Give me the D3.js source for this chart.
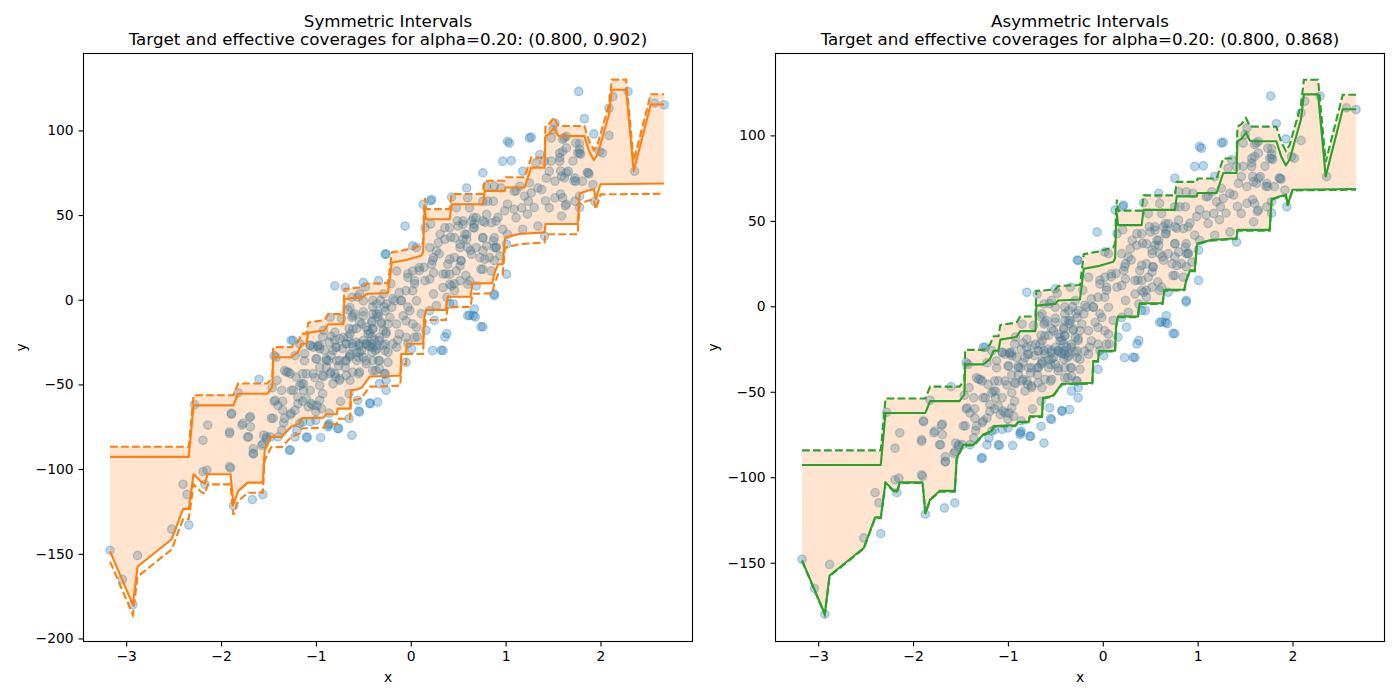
<!DOCTYPE html>
<html>
<head>
<meta charset="utf-8">
<script src="https://cdn.jsdelivr.net/npm/d3@7"></script>
<style>
  body { margin: 0; background: #fff; }
  text { font-family: "DejaVu Sans", sans-serif; }
</style>
</head>
<body>
<div id="chart"></div>
<script>
// observed points (x, y), shared by both panels
const observations = [
  [-3.17,-148],[-3.04,-165],[-2.93,-180],[-2.88,-151],[-2.52,-135.5],[-2.34,-133],[-2.40,-109],[-2.36,-115],
  [-2.19,-101.5],[-2.15,-100.6],[-2.17,-109],[-2.28,-62],[-2.14,-74],[-2.19,-83],[-1.89,-67.6],[-1.91,-78],
  [-1.90,-99.4],[-1.87,-121.6],[-1.82,-55],[-1.70,-69.6],[-1.78,-74],[-1.72,-81],[-1.66,-88],[-1.66,-90.8],
  [-1.67,-118],[-1.56,-115],[-1.60,-47],[-1.56,-85],[-1.52,-81],[-1.45,-70],[-1.44,-60],[-1.46,-52],
  [-1.41,-47.6],[-1.34,-72.7],[-1.28,-89],[-1.40,-81],[-1.26,-67],[-1.24,-53.5],[-1.35,-60],[-1.29,-42.7],
  [-1.10,-81],[-0.95,-81.4],[-1.14,-60],[-1.03,-62.4],[-1.00,-66],[-0.86,-67],[-0.87,-74],[-0.76,-76],
  [-0.62,-80],[-0.74,-60],[-0.55,-65.7],[-0.43,-61],[-0.65,-55.5],[-1.21,-45.7],
  [-1.26,-24],[-1.17,-26],[-1.42,-34],[-1.31,-42.7],[-1.27,-43.7],[-1.22,-33],[-1.12,-36],[-1.06,-27],
  [-0.98,-27],[-0.96,-29],[-0.99,-35],[-0.89,-35],[-0.87,-36],[-0.92,-18],[-0.80,-24],[-0.82,-30],
  [-0.78,-36],[-0.76,-39],[-0.80,-43.7],[-0.75,-46.6],[-0.69,-40],[-0.68,-36],[-0.66,-22],[-0.62,-26],
  [-0.57,-17],[-0.61,-9.4],[-0.50,-9.4],[-0.52,-14.3],[-0.40,-8.4],[-0.43,-20],[-0.41,-26],[-0.47,-26],
  [-0.54,-27],[-0.36,-29],[-0.55,-34],[-0.47,-36],[-0.34,-36],[-0.61,-42.7],[-0.55,-43.7],[-0.27,-43.7],
  [-0.26,-53.5],[-0.43,-61.4],[-0.54,-66.3],[-0.77,-76],[-0.87,-75],[-1.27,-88.5],[-1.06,-72],[-1.08,-63.3],
  [-0.99,-62.4],[-0.96,-59.4],[-1.10,-58.4],[-1.19,-61.4],[-1.22,-65.3],[-1.27,-68],[-1.33,-70],[-1.43,-59.4],
  [-1.40,-62.4],[-1.47,-70],[-1.52,-82],[-1.48,-81],[-1.57,-86],[-1.66,-91],[-1.91,-79],[-1.89,-67],
  [-1.69,-69],[-1.77,-73],[-1.69,-75],[-1.71,-81],[-1.91,-98.6],[-1.13,-49.6],[-1.17,-50.6],[-1.13,-53.5],
  [-1.06,-53.5],[-0.96,-50.6],[-1.01,-46],[-0.92,-45.3],[-0.85,-43.7],[-0.82,-49.6],[-0.75,-47.6],[-0.64,-47.6],
  [-0.94,-64.3],[-0.89,-40],[-0.96,-40],[-1.10,-43.7],[-1.36,-53.5],[-1.26,-53.5],[-1.19,-57.5],[-1.33,-41.8],
  [-1.36,-77],[-1.20,-77],[-1.22,-81],[-1.17,-73],[-1.55,-80],[-1.09,-81.4],
  [-0.62,1.4],[-0.54,3.4],[-0.50,-0.6],[-0.36,-2.5],[-0.29,3.4],[-0.26,-2.5],[-0.34,-8.4],[-0.31,-13.3],
  [-0.26,-19],[-0.40,-17],[-0.50,-24],[-0.33,-24],[-0.27,-30],[-0.41,-31],[-0.57,-31],[-0.64,-33],
  [-0.24,-36.9],[-0.40,-41.8],[-0.33,-40.8],[-0.41,-13.3],
  [-0.80,8.2],[-0.69,7.2],[-0.50,10.2],[-0.34,11.2],[-0.26,26.9],[-0.06,43.5],[0.02,31.8],[0.06,30.8],
  [0.13,56.3],[0.15,42.5],[0.22,59.2],[0.43,60.6],[0.59,66],[0.60,-9.4],[0.66,-9.4],[0.74,-15.9],
  [0.38,-20],[0.36,-22],[0.23,-30],[0.34,-30],[-0.05,-36.9],[0.88,3.4],
  [-0.64,-4.5],[-0.59,-8.4],[-0.62,-10.4],[-0.41,-12.4],[-0.36,-8.4],[-0.47,-16.3],[-0.40,-17.3],[-0.45,-20.2],
  [-0.41,-22.2],[-0.47,-26.1],[-0.52,-30],[-0.40,-28],[-0.36,-27],[-0.33,-22.2],[-0.29,-18.2],[-0.27,-26.1],
  [-0.19,-26.1],[-0.15,-28],[-0.24,-31],[-0.33,-35.9],[-0.40,-35.9],[-0.50,-33.9],[-0.57,-35.9],[-0.64,-32],
  [-0.69,-35.9],[-0.64,-20.2],[-0.61,-17.3],[-0.71,-22.2],[-0.80,-19.2],
  [-0.15,17],[-0.03,13.1],[-0.05,5.3],[-0.10,-0.6],[-0.17,-0.6],[-0.12,4.3],[0.02,5.3],[0.06,-0.6],
  [-0.01,-6.5],[-0.08,-9.4],[0.02,-14.3],[-0.05,-12.4],[0.06,-16.3],[-0.22,-10.4],[-0.20,-4.5],[-0.27,-6.5],
  [-0.24,-14.3],[0.09,19],[0.02,17],[0.04,11.2],[0.15,11.2],[0.20,12.2],[0.22,21],[0.24,24.9],
  [0.27,28.8],[0.20,30.8],[0.29,33.7],[0.31,38.6],[0.36,42.5],[0.39,21],[0.34,15.1],[0.24,16],
  [0.34,7.2],[0.41,9.2],[0.46,5.3],[0.41,-2.5],[0.24,3.4],[0.20,-6.5],[0.27,-3.5],[0.48,17],
  [0.46,24.9],[0.53,23],[0.52,30.8],[0.55,35.7],[0.59,38.6],[0.55,44.5],[0.50,43.5],[0.64,46.5],
  [0.69,48.4],[0.80,50.4],[0.66,42.5],[0.76,36.6],[0.87,34.7],[0.69,30.8],[0.78,23.9],[0.76,18],
  [0.62,11.2],[0.88,30.8],[0.85,17],[0.76,58.2],[0.87,58.2],[-0.85,-10.4],[-0.78,-28],[-0.68,-26],
  [-0.15,-14.3],[-0.12,-20.2],[-0.05,-22.2],[0.04,-22.2],[0.01,-29],
  [1.83,106.9],[1.52,104.3],[1.50,100.4],[1.25,95.5],[1.02,93.5],[1.04,92.5],[0.97,81.8],[1.06,82.2],
  [0.76,74.9],[1.18,75.9],[1.93,97.9],[1.01,15.1],[1.41,37.6],[1.94,58.2],[0.67,-5.5],
  [0.48,54.3],[0.62,54.3],[0.60,60.2],[0.41,42.5],[0.55,46.5],[0.66,48.4],[0.46,36.6],[0.36,35.7],
  [0.59,35.7],[0.67,42.5],[0.76,46.5],[0.81,58.2],[0.85,45.5],[0.90,46.5],[0.97,41.6],[1.02,38.6],
  [0.88,36.6],[0.76,36.6],[0.80,31.8],[0.90,30.8],[0.94,25.9],[0.83,24.9],[0.73,24.9],[0.64,26.9],
  [0.60,30.8],[0.52,32.8],[0.52,20],[0.41,23.9],[0.41,15.1],[0.52,11.2],[0.60,9.2],[0.74,18],
  [0.69,8.2],[0.43,8.2],[0.38,1.4],[0.45,-2.5],[0.80,67],[0.88,67],[0.95,66],[1.09,64.1],
  [1.15,67],[1.20,61.2],[1.09,53.4],[1.17,54.3],[1.24,58.2],[1.27,63.1],[1.25,69],[1.34,66],
  [1.38,65.1],[1.43,71.9],[1.52,70],[1.59,72.9],[1.64,74.9],[1.46,75.9],[1.52,60.2],[1.64,56.3],
  [1.46,54.3],[1.34,43.5],[1.18,41.6],[1.01,32.8],[1.11,48.4],[1.36,85.7],[1.41,81.8],[1.32,80.8],
  [1.60,87.6],[1.64,89.6],[1.74,92.5],[1.76,86.6],[1.73,71.9],[1.81,70],[1.92,68],[1.87,74.9],
  [1.48,95.5],[1.62,95.5],[1.99,87.6],[2.02,86.6],
  [1.77,123],[2.13,120],[2.09,113.1],[2.29,123],[2.67,115.1],[2.57,116.1],[2.09,97],[2.36,75.9],
  [1.57,86.6],[1.78,86.6],[1.64,96.5],[1.57,81.8],[1.66,75.9],[1.62,72],[1.74,70],[1.88,74.3],
  [1.78,61.2],[1.73,58.2],[1.59,49.4],[1.60,60.2],
  [0.21,58.4],[1.27,96],[0.32,-29.8],[0.62,-9.2],[0.68,-10.2],[0.76,-16],[0.88,2.5],[1.78,54.5],
  [1.23,50.6],[1.30,54.5],[1.42,58.4],[1.58,62.4],[1.63,55.5],[1.72,70.2],[1.86,75.1],[1.58,76],
  [1.48,81.9],[1.57,83.9],[1.71,81.9],[1.78,88.8],[1.79,85.9],[1.78,92.2],[1.60,94.7],[1.11,64.3],
  [1.02,56.5],[0.99,52.5],[0.92,48.6],[0.78,45.7],[0.67,44.7],[0.57,38.8],[0.49,46.6],[0.42,36.9],
  [0.21,44.7],[0.30,27.1],[0.23,23.1],[0.14,19.2],[0.09,17.3],[-0.03,15.3],[0.04,9.4],[-0.21,9.4],
  [-0.19,0.6],[-0.10,-0.4],[-0.03,-4.3],[0.11,-8.2],[0.25,-12.2],[0.16,-18],[0.07,-22],[-0.03,-25.9],
  [-0.14,-23.9],[0.53,23.1],[0.63,29],[0.76,29],[0.90,31],[0.88,23.1],[0.58,14.3],[0.46,9.4],[0.37,15.3],
  [-0.27,27],[-0.56,1.6],[-0.48,7.5],[-0.66,-5.9],[-0.50,-7],[-0.40,-4.3],[-0.35,-10],[-0.45,-18],
  [-0.54,-13.1],[-0.65,-17],[-0.73,-11.2],[-0.75,-23],[-0.84,-21.6],[-0.93,-22],[-0.98,-27.8],[-1.06,-26.9],
  [-0.91,-29.8],[-0.72,-28.8],[-0.61,-27.8],[-0.54,-25.9],[-0.43,-27.8],[-0.38,-23.9],[-0.29,-26.9],[-0.26,-20],
  [-0.31,-14.1],[-0.28,-4.3],[-0.32,-0.4],[-0.40,-0.4],
  [-1.14,-43.7],[-1.03,-43.7],[-0.93,-44.7],[-0.84,-42.7],[-0.79,-45.7],[-0.68,-44.7],[-0.54,-42.7],[-0.47,-37.8],
  [-0.37,-41.8],[-0.28,-43.7],[-0.37,-30],[-0.45,-27],[-0.54,-31],[-0.65,-33.9],[-0.75,-35.9],[-0.84,-32.9],
  [-0.89,-35.9],[-1.00,-34.9],[-1.12,-31.9],[-1.03,-28],[-0.96,-27],[-0.86,-25.1],[-0.79,-28],[-0.68,-26.1],
  [-0.58,-25.1],[-0.26,-47.6],[-0.33,-49.6],[-0.35,-60.4],[-0.56,-59.4],[-0.65,-70.2],[-0.86,-73.1],[-1.15,-49.6],
  [-1.05,-61.4],[-1.00,-71.2],[-1.14,-72.2],[-0.93,-55.5],[-1.35,-65.3],[-1.44,-33],[-1.24,-24]
];

// lower and upper quantile predictions (solid lines), same in both panels
const lowerPred = [
  [-3.17,-148.6],[-2.93,-180],[-2.88,-157.5],[-2.52,-141.4],[-2.40,-123.5],[-2.34,-123.5],[-2.29,-103],
  [-2.21,-107.5],[-2.17,-108.5],[-2.14,-103],[-1.90,-103],[-1.87,-121],[-1.82,-113],[-1.72,-108],[-1.56,-108],
  [-1.54,-89],[-1.48,-82],[-1.47,-81],[-1.36,-81],[-1.31,-78],[-1.26,-75],[-1.17,-73],[-1.15,-70],
  [-0.92,-69.6],[-0.89,-67.6],[-0.78,-67.6],[-0.77,-64.3],[-0.64,-64.3],[-0.63,-53.5],[-0.57,-53],[-0.52,-52],
  [-0.43,-45.3],[-0.22,-45],[-0.11,-44.7],[-0.10,-32],[-0.05,-32],[-0.04,-26],[0.13,-26],[0.14,-12],
  [0.16,-6],[0.37,-6],[0.39,1.8],[0.63,1.8],[0.65,9.5],[0.86,9.8],[0.88,15.3],[0.92,21],[0.97,21],
  [0.99,35],[1.00,36.8],[1.14,38.8],[1.41,39.8],[1.42,44.7],[1.76,44.7],[1.78,62.7],[1.86,64.3],
  [1.93,65.3],[1.95,59.4],[2.00,68.2],[2.67,68.6]
];
const upperPred = [
  [-3.17,-92.8],[-2.34,-92.8],[-2.29,-62.4],[-1.87,-62.4],[-1.82,-55.5],[-1.51,-55.5],[-1.46,-51.6],
  [-1.45,-34],[-1.26,-34],[-1.19,-31],[-1.15,-26],[-1.10,-26],[-1.08,-19.5],[-0.91,-18],[-0.87,-14.5],
  [-0.71,-14.5],[-0.70,0.4],[-0.50,1.4],[-0.47,3.4],[-0.24,4],[-0.20,22],[-0.05,23.5],[0.11,26],
  [0.13,28],[0.14,47.6],[0.15,54],[0.16,47.5],[0.41,47.5],[0.43,56.4],[0.76,56.4],[0.78,64.3],
  [0.99,64.3],[1.00,66.3],[1.20,66.3],[1.27,78],[1.41,78],[1.42,96.6],[1.46,98],[1.51,101.6],
  [1.55,97],[1.58,96.6],[1.83,96.6],[1.88,87.8],[1.93,82.4],[1.97,85.9],[2.09,109.4],[2.12,124],
  [2.27,124],[2.35,76],[2.53,115.3],[2.67,115.3]
];

// conformal widening [below lower, above upper]
const symmetricMargins = [6, 6];
const asymmetricMargins = [0.4, 8.5];

const titles = ["Symmetric Intervals", "Asymmetric Intervals"];
const subtitles = [
  "Target and effective coverages for alpha=0.20: (0.800, 0.902)",
  "Target and effective coverages for alpha=0.20: (0.800, 0.868)"
];
const xTicks = [-3, -2, -1, 0, 1, 2];
const yTicksLeft = [-200, -150, -100, -50, 0, 50, 100];
const yTicksRight = [-150, -100, -50, 0, 50, 100];

const svg = d3.select("#chart").append("svg")
  .attr("width", 1400)
  .attr("height", 700)
  .style("background", "#fff");

const panelW = 609, panelH = 588, panelTop = 53.5;

function drawPanel(i, left, yDomain, yTicks, margins, color) {
  const g = svg.append("g").attr("transform", `translate(${left},${panelTop})`);
  const x = d3.scaleLinear().domain([-3.45, 2.97]).range([0, panelW]);
  const y = d3.scaleLinear().domain(yDomain).range([panelH, 0]);
  const line = d3.line().x(d => x(d[0])).y(d => y(d[1]));

  const lowDash = lowerPred.map(d => [d[0], d[1] - margins[0]]);
  const upDash = upperPred.map(d => [d[0], d[1] + margins[1]]);

  // points first, the band is laid over them
  g.append("g").selectAll("circle")
    .data(observations)
    .join("circle")
    .attr("cx", d => x(d[0]))
    .attr("cy", d => y(d[1]))
    .attr("r", 4.2)
    .attr("fill", "#1f77b4")
    .attr("fill-opacity", 0.3)
    .attr("stroke", "#1f77b4")
    .attr("stroke-opacity", 0.3)
    .attr("stroke-width", 1.4);

  // band
  g.append("path")
    .attr("d", line(upDash.concat(lowerPred.slice().reverse())) + "Z")
    .attr("fill", "#ff7f0e")
    .attr("fill-opacity", 0.2);

  // solid bounds
  [lowerPred, upperPred].forEach(s => {
    g.append("path").attr("d", line(s))
      .attr("fill", "none").attr("stroke", color)
      .attr("stroke-width", 2.1).attr("stroke-linejoin", "round");
  });
  // conformalized bounds
  [lowDash, upDash].forEach(s => {
    g.append("path").attr("d", line(s))
      .attr("fill", "none").attr("stroke", color)
      .attr("stroke-width", 2.1).attr("stroke-dasharray", "7.7,3.3");
  });

  // axes
  const xAxis = g.append("g")
    .attr("transform", `translate(0,${panelH})`)
    .call(d3.axisBottom(x).tickValues(xTicks).tickSize(4.9).tickPadding(4.9).tickFormat(d3.format("d")));
  const yAxis = g.append("g")
    .call(d3.axisLeft(y).tickValues(yTicks).tickSize(4.9).tickPadding(4.9).tickFormat(d3.format("d")));
  [xAxis, yAxis].forEach(a => {
    a.select(".domain").remove();
    a.selectAll("line").attr("stroke", "#000").attr("stroke-width", 1.1);
    a.selectAll("text").attr("fill", "#000").style("font-size", "13.9px")
      .style("font-family", "'DejaVu Sans', sans-serif");
  });

  g.append("rect")
    .attr("width", panelW).attr("height", panelH)
    .attr("fill", "none").attr("stroke", "#000").attr("stroke-width", 1.1);

  // labels
  g.append("text")
    .attr("x", panelW / 2).attr("y", panelH + 40)
    .attr("text-anchor", "middle").style("font-size", "13.9px")
    .text("x");
  g.append("text")
    .attr("transform", `translate(${-58},${panelH / 2}) rotate(-90)`)
    .attr("text-anchor", "middle").style("font-size", "13.9px")
    .text("y");

  g.append("text")
    .attr("x", panelW / 2).attr("y", 26.5 - panelTop)
    .attr("text-anchor", "middle").style("font-size", "16.7px")
    .text(titles[i]);
  g.append("text")
    .attr("x", panelW / 2).attr("y", 45 - panelTop)
    .attr("text-anchor", "middle").style("font-size", "16.7px")
    .text(subtitles[i]);
}

drawPanel(0, 83.5, [-201.8, 145.4], yTicksLeft, symmetricMargins, "#ff7f0e");
drawPanel(1, 775.5, [-196.1, 147.9], yTicksRight, asymmetricMargins, "#2ca02c");
</script>
</body>
</html>
